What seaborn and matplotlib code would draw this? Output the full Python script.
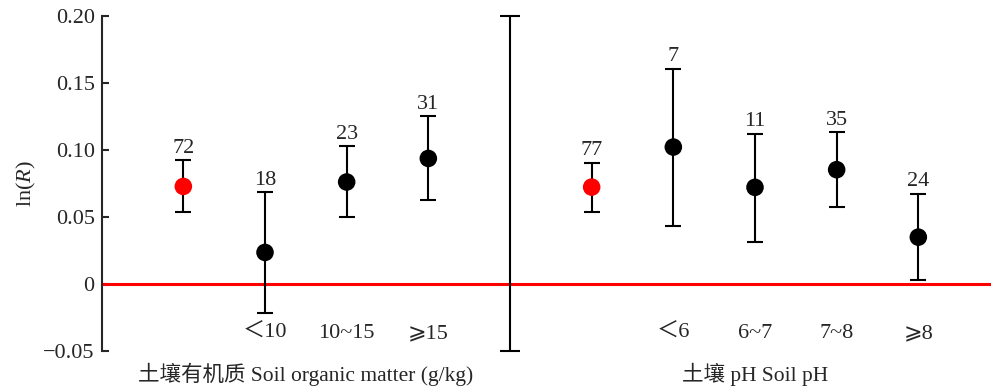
"""
Forest-style point chart: ln(R) by soil organic matter and soil pH
"""
import numpy as np
import pandas as pd
import matplotlib
matplotlib.use('Agg')
import matplotlib.pyplot as plt
import matplotlib.transforms as mtransforms
import seaborn as sns

# Data
positions = [1, 2, 3, 4, 6, 7, 8, 9, 10]
labels = ['', '＜10', '10~15', '⩾15', '', '＜6', '6~7', '7~8', '⩾8']
means = [0.0727, 0.0234, 0.0760, 0.0936, 0.0722, 0.1021, 0.0720, 0.0852, 0.0348]
upper = [0.0921, 0.0683, 0.1026, 0.1250, 0.0901, 0.1607, 0.1118, 0.1131, 0.0673]
lower = [0.0533, -0.0215, 0.0496, 0.0629, 0.0535, 0.0428, 0.0314, 0.0575, 0.0025]
counts = [72, 18, 23, 31, 77, 7, 11, 35, 24]
kind = ['overall', 'group', 'group', 'group', 'overall', 'group', 'group', 'group', 'group']
group_titles = ['土壤有机质 Soil organic matter (g/kg)', '土壤 pH Soil pH']
group_centers = [2.5, 8.0]
divider_x = 5

df = pd.DataFrame({'pos': positions, 'mean': means, 'upper': upper,
                   'lower': lower, 'n': counts, 'kind': kind, 'label': labels})

sns.set_style('ticks')
plt.rcParams['font.family'] = ['Liberation Serif', 'Noto Sans CJK SC', 'DejaVu Sans']
plt.rcParams['mathtext.fontset'] = 'custom'
plt.rcParams['mathtext.rm'] = 'Liberation Serif'
plt.rcParams['mathtext.it'] = 'Liberation Serif:italic'

fig = plt.figure(figsize=(9.91, 3.9), dpi=100)
ax = fig.add_axes([0.1026, 0.1008, 0.8974, 0.8582])

# zero reference line
ax.axhline(0, color='#ff0000', lw=2.2, zorder=1)

# divider between the two groups
ax.errorbar([divider_x], [0.075], yerr=[[0.125], [0.125]], fmt='none',
            ecolor='black', elinewidth=1.5, capsize=7, capthick=1.5,
            clip_on=False, zorder=2)

# error bars
ax.errorbar(df['pos'], df['mean'],
            yerr=[df['mean'] - df['lower'], df['upper'] - df['mean']],
            fmt='none', ecolor='black', elinewidth=1.5, capsize=6, capthick=1.5,
            zorder=2)

# points
sns.scatterplot(data=df, x='pos', y='mean', hue='kind',
                palette={'overall': '#ff0000', 'group': 'black'},
                s=160, edgecolor='none', legend=False, zorder=3, ax=ax)

# sample sizes
for _, r in df.iterrows():
    ax.annotate(str(r['n']), (r['pos'], r['upper']), xytext=(0, 2),
                textcoords='offset points', ha='center', va='bottom', fontsize=16)

# category labels inside the plot
for _, r in df.iterrows():
    if r['label']:
        ax.text(r['pos'], -0.0372, r['label'], ha='center', va='center', fontsize=16)

# group titles below the axis
trans = mtransforms.blended_transform_factory(ax.transData, fig.transFigure)
for t, c in zip(group_titles, group_centers):
    fig.text(c, 0.04, t, transform=trans, ha='center', va='center', fontsize=15.5)

ax.set_xlim(0, 10.89)
ax.set_ylim(-0.05, 0.20)
ax.set_yticks([-0.05, 0, 0.05, 0.10, 0.15, 0.20])
ax.set_yticklabels(['−0.05', '0', '0.05', '0.10', '0.15', '0.20'], fontsize=16)
ax.set_xticks([])
ax.set_xlabel('')
ax.set_ylabel(r'ln($\mathit{R}$)', fontsize=16, labelpad=4)
ax.tick_params(axis='y', direction='in', length=5, width=1.5, pad=5)
for s in ['top', 'right', 'bottom']:
    ax.spines[s].set_visible(False)
ax.spines['left'].set_linewidth(1.5)

plt.savefig('out.png', dpi=100)
